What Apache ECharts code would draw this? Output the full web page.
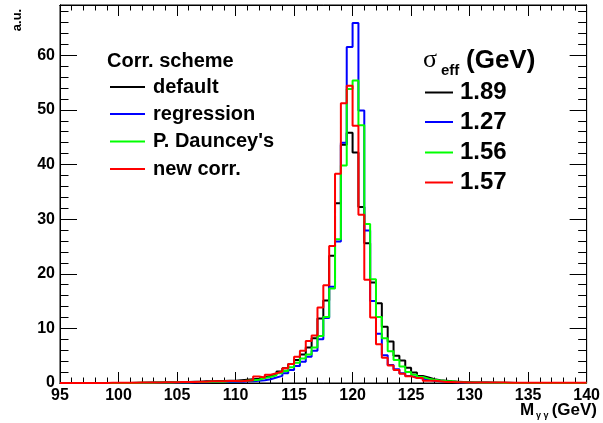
<!DOCTYPE html>
<html><head><meta charset="utf-8">
<script src="https://cdn.jsdelivr.net/npm/echarts@6/dist/echarts.min.js"></script>
<style>html,body{margin:0;padding:0;background:#fff}#c{width:603px;height:423px}</style>
</head><body><div id="c"></div>
<script>
// Histogram binning (GeV)
const BIN_START = 95, BIN_WIDTH = 0.5, X_MIN = 95, X_MAX = 140;
const Y_MAX = 69.2;
const seriesNames = ['default', 'regression', "P. Dauncey's", 'new corr.'];
const sigmaEff = ['1.89', '1.27', '1.56', '1.57'];
const colors = ['#000000', '#0000ff', '#00ff00', '#ff0000'];

const defaultVals = [
0,0,0,0,0,0,0,0,0,0,
0,0,0.05,0.05,0.05,0.1,0.1,0.1,0.15,0.15,
0.2,0.2,0.25,0.25,0.3,0.3,0.35,0.35,0.4,0.4,
0.5,0.6,0.7,0.8,1.0,1.3,1.6,2.1,2.7,3.5,
4.2,5.2,6.5,8.2,11.8,15.1,23.3,32.9,43.6,45.8,
42.2,32.2,25.6,18.4,14.6,10.3,7.6,5.0,4.1,2.8,
1.9,1.3,1.0,0.7,0.5,0.4,0.3,0.25,0.2,0.15,
0.1,0.1,0.1,0.05,0.05,0.05,0.05,0,0,0,
0,0,0,0,0,0,0,0,0,0];

const regressionVals = [
0,0,0,0,0,0,0,0,0,0,
0,0,0,0,0.05,0.05,0.05,0.1,0.1,0.1,
0.1,0.1,0.15,0.15,0.15,0.2,0.2,0.2,0.2,0.2,
0.2,0.3,0.3,0.4,0.5,0.7,1.0,1.3,1.8,2.4,
3.1,3.9,4.8,5.9,8.0,11.9,17.6,25.9,44.0,61.5,
65.9,49.9,27.9,15.0,9.0,5.1,3.3,2.5,1.8,1.3,
1.0,0.8,0.6,0.4,0.3,0.25,0.2,0.15,0.1,0.1,
0.05,0.05,0.05,0.05,0,0,0,0,0,0,
0,0,0,0,0,0,0,0,0,0];

const daunceyVals = [
0,0,0,0,0,0,0,0,0,0,
0,0,0,0.05,0.05,0.05,0.1,0.1,0.1,0.15,
0.15,0.15,0.2,0.2,0.2,0.25,0.25,0.25,0.3,0.3,
0.3,0.4,0.5,0.6,0.9,1.1,1.4,1.8,2.2,2.9,
3.7,4.5,5.2,6.5,8.6,12.1,17.3,26.3,39.8,53.8,
55.4,47.2,29.1,19.0,12.1,8.2,5.8,4.2,3.0,2.0,
1.5,1.1,0.8,0.6,0.45,0.35,0.3,0.2,0.15,0.1,
0.1,0.05,0.05,0.05,0.05,0,0,0,0,0,
0,0,0,0,0,0,0,0,0,0];

const newCorrVals = [
0,0,0,0,0,0,0,0,0.05,0.05,
0.05,0.05,0.05,0.1,0.1,0.1,0.1,0.15,0.15,0.15,
0.2,0.2,0.2,0.25,0.25,0.3,0.3,0.3,0.35,0.35,
0.3,0.4,0.5,1.2,1.0,1.5,1.8,2.1,2.7,3.5,
4.8,5.9,7.7,8.7,13.8,17.9,25.1,38.3,51.2,54.4,
47.1,30.8,18.9,12.0,7.1,4.6,3.2,2.4,1.7,1.25,
0.9,0.9,0.4,0.4,0.3,0.2,0.2,0.15,0.15,0.1,
0.1,0.1,0.1,0.1,0.1,0.1,0.05,0.05,0.05,0.05,
0.05,0.05,0.05,0.05,0.05,0.05,0.05,0.05,0.05,0.05];

const allVals = [defaultVals, regressionVals, daunceyVals, newCorrVals];

function histData(vals) {
  const d = vals.map((v, i) => [BIN_START + i * BIN_WIDTH, v]);
  d.push([BIN_START + vals.length * BIN_WIDTH, vals[vals.length - 1]]);
  return d;
}

const FONT = 'Liberation Sans, Arial, Helvetica, sans-serif';
const chart = echarts.init(document.getElementById('c'), null, {renderer: 'canvas'});

function xAx(pos, interval, len, labels) {
  return {
    type: 'value', min: X_MIN, max: X_MAX, interval: interval, position: pos,
    splitLine: {show: false},
    axisLine: {show: true, onZero: false, lineStyle: {color: '#000', width: 1}},
    axisTick: {show: true, inside: true, length: len, lineStyle: {color: '#000', width: 1}},
    axisLabel: labels ? {show: true, fontFamily: FONT, fontWeight: 'bold', fontSize: 16, color: '#000', margin: 5,
      formatter: v => (Math.abs(v % 5) < 1e-6 ? String(v) : '')} : {show: false}
  };
}
function yAx(pos, interval, len, labels) {
  return {
    type: 'value', min: 0, max: Y_MAX, interval: interval, position: pos,
    splitLine: {show: false},
    axisLine: {show: true, onZero: false, lineStyle: {color: '#000', width: 1}},
    axisTick: {show: true, inside: true, length: len, lineStyle: {color: '#000', width: 1}},
    axisLabel: labels ? {show: true, fontFamily: FONT, fontWeight: 'bold', fontSize: 16, color: '#000', margin: 5,
      formatter: v => (Math.abs(v % 10) < 1e-6 ? String(v) : '')} : {show: false}
  };
}

const graphics = [];
// y-axis title
graphics.push({type: 'text', x: 17, y: 20, rotation: Math.PI / 2,
  style: {text: 'a.u.', font: 'bold 13px ' + FONT, fill: '#000', align: 'center', verticalAlign: 'middle'}});
// x-axis title
graphics.push({type: 'text', x: 520, y: 410,
  style: {text: 'M', font: 'bold 17px ' + FONT, fill: '#000', align: 'left', verticalAlign: 'middle'}});
graphics.push({type: 'text', x: 536, y: 416,
  style: {text: 'γ γ', font: 'bold 9px ' + FONT, fill: '#000', align: 'left', verticalAlign: 'middle'}});
graphics.push({type: 'text', x: 597, y: 410,
  style: {text: '(GeV)', font: 'bold 17px ' + FONT, fill: '#000', align: 'right', verticalAlign: 'middle'}});

// Legend 1
graphics.push({type: 'text', x: 107, y: 61,
  style: {text: 'Corr. scheme', font: 'bold 20px ' + FONT, fill: '#000', align: 'left', verticalAlign: 'middle'}});
const leg1Y = [87, 114, 141.5, 169];
seriesNames.forEach((n, i) => {
  graphics.push({type: 'line', shape: {x1: 110, y1: leg1Y[i], x2: 145, y2: leg1Y[i]}, style: {stroke: colors[i], lineWidth: 2}});
  graphics.push({type: 'text', x: 153, y: leg1Y[i],
    style: {text: n, font: 'bold 20px ' + FONT, fill: '#000', align: 'left', verticalAlign: 'middle'}});
});
// Legend 2
graphics.push({type: 'text', x: 423, y: 60,
  style: {text: 'σ', font: '26px Liberation Serif, serif', fill: '#000', align: 'left', verticalAlign: 'middle'}});
graphics.push({type: 'text', x: 441, y: 71,
  style: {text: 'eff', font: 'bold 15px ' + FONT, fill: '#000', align: 'left', verticalAlign: 'middle'}});
graphics.push({type: 'text', x: 466, y: 61,
  style: {text: '(GeV)', font: 'bold 26px ' + FONT, fill: '#000', align: 'left', verticalAlign: 'middle'}});
const leg2Y = [92.5, 122, 152.5, 182.5];
sigmaEff.forEach((s, i) => {
  graphics.push({type: 'line', shape: {x1: 425, y1: leg2Y[i], x2: 453, y2: leg2Y[i]}, style: {stroke: colors[i], lineWidth: 2}});
  graphics.push({type: 'text', x: 460, y: leg2Y[i],
    style: {text: s, font: 'bold 24px ' + FONT, fill: '#000', align: 'left', verticalAlign: 'middle'}});
});

chart.setOption({
  animation: false,
  backgroundColor: '#fff',
  grid: {left: 60, right: 8, top: 5, bottom: 40, show: true, borderColor: '#000', borderWidth: 1, backgroundColor: 'transparent'},
  xAxis: [xAx('bottom', 5, 11, true), xAx('bottom', 1, 5.5, false), xAx('top', 5, 11, false), xAx('top', 1, 5.5, false)],
  yAxis: [yAx('left', 10, 17, true), yAx('left', 2, 8.5, false), yAx('right', 10, 17, false), yAx('right', 2, 8.5, false)],
  series: allVals.map((vals, i) => ({
    name: seriesNames[i], type: 'line', step: 'end', showSymbol: false, symbol: 'none',
    xAxisIndex: 0, yAxisIndex: 0, clip: true,
    lineStyle: {color: colors[i], width: 2}, itemStyle: {color: colors[i]},
    data: histData(vals), z: 2 + i
  })),
  graphic: graphics
});
</script></body></html>
